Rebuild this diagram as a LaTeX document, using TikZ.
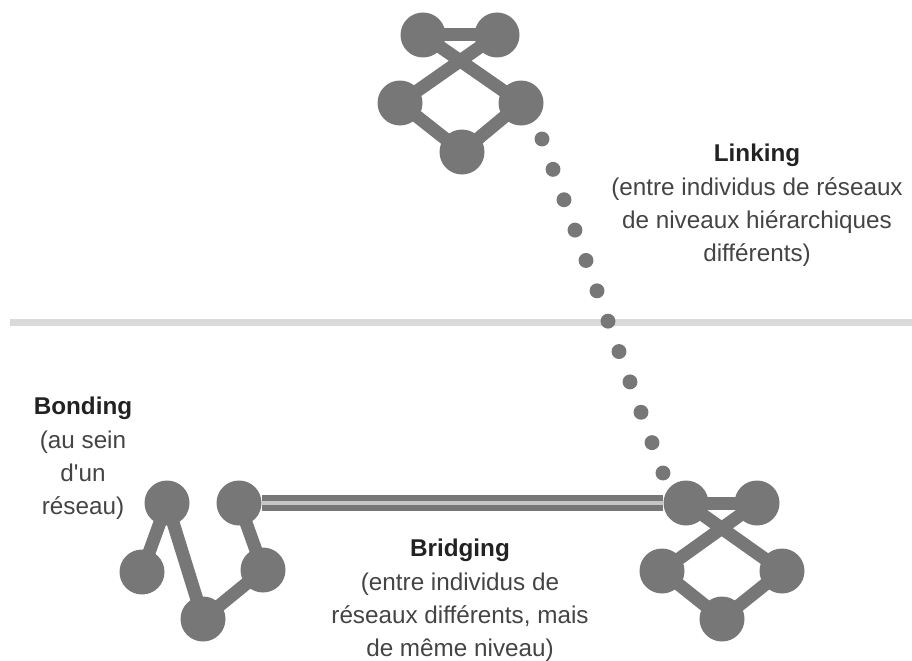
\documentclass[tikz,border=0pt]{standalone}
\usepackage{fontspec}
\setmainfont{Liberation Sans}[Ligatures=TeXOff]
\usetikzlibrary{calc}
\definecolor{netgray}{HTML}{777777}
\definecolor{bridgegray}{HTML}{C6C6C6}
\definecolor{levelgray}{HTML}{DADADA}
\definecolor{textgray}{HTML}{444444}
\definecolor{headgray}{HTML}{222222}

\begin{document}
\begin{tikzpicture}[x=0.75pt,y=-0.75pt,
  member/.style={circle,fill=netgray,minimum size=33.75pt,inner sep=0pt},
  tie/.style={netgray,line width=9.75pt},
  bridge/.style={netgray,line width=4.5pt,double=bridgegray,double distance=3pt},
  level/.style={levelgray,line width=5.25pt},
  captext/.style={align=center,inner sep=0pt,anchor=north,text=textgray,
    font=\fontsize{18.2}{25}\selectfont}]
\useasboundingbox (0,0) rectangle (912,660);

\draw[level] (10,322) -- (912,322);

% upper network
\node[member] (t1) at (423,35) {};
\node[member] (t2) at (497,35) {};
\node[member] (t3) at (400,103) {};
\node[member] (t4) at (521,103) {};
\node[member] (t5) at (462,152) {};
\draw[tie] (t1.center) -- (t2.center);
\draw[tie] (t1.center) -- (t4.center) -- (t5.center) -- (t3.center) -- (t2.center);

% lower right network
\node[member] (r1) at (686,503) {};
\node[member] (r2) at (757,503) {};
\node[member] (r3) at (662,571) {};
\node[member] (r4) at (782,571) {};
\node[member] (r5) at (722,619) {};
\draw[tie] (r1.center) -- (r2.center);
\draw[tie] (r1.center) -- (r4.center) -- (r5.center) -- (r3.center) -- (r2.center);

% lower left network
\node[member] (g1) at (167,503) {};
\node[member] (g2) at (239,503) {};
\node[member] (g3) at (142,572) {};
\node[member] (g4) at (263,570) {};
\node[member] (g5) at (203,619) {};
\draw[tie] (g3.center) -- (g1.center) -- (g5.center) -- (g4.center) -- (g2.center);

\draw[bridge] (g2) -- (r1);

\coordinate (k0) at (542,139);
\coordinate (k1) at (663,473);
\foreach \i in {0,...,11}
  \fill[netgray] ($(k0)!\i/11!(k1)$) circle (5.6pt);

\node[captext] (linking) at (757,144) {{\bfseries\color{headgray}Linking}\\(entre individus de réseaux\\de niveaux hiérarchiques\\différents)};
\node[captext] (bonding) at (83,397) {{\bfseries\color{headgray}Bonding}\\(au sein\\d'un\\réseau)};
\node[captext] (bridging) at (460,539) {{\bfseries\color{headgray}Bridging}\\(entre individus de\\réseaux différents, mais\\de même niveau)};
\end{tikzpicture}
\end{document}
